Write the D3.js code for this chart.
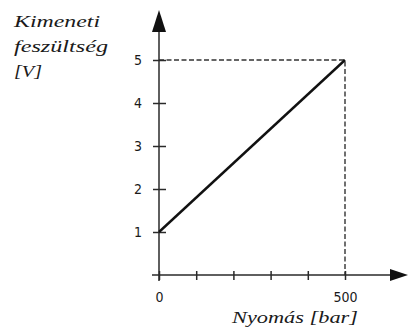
<!DOCTYPE html>
<html><head><meta charset="utf-8">
<script src="https://cdn.jsdelivr.net/npm/d3@7"></script>
<style>
body{margin:0;background:#fff}
.ttl{font-family:"Liberation Serif","DejaVu Serif",serif;font-style:italic;fill:#1a1a1a}
.tk{font-family:"DejaVu Sans Condensed","DejaVu Sans",sans-serif;fill:#1a1a1a}
</style>
</head><body>
<script>
const lineX = [0, 500];
const lineY = [1, 5];
const yTicks = [1, 2, 3, 4, 5];
const xTicks = [0, 100, 200, 300, 400, 500];
const xTickLabels = ["0", "", "", "", "", "500"];
const yTitle = ["Kimeneti", "feszültség", "[V]"];
const xTitle = "Nyomás [bar]";

const W = 409, H = 333;
const svg = d3.select("body").append("svg").attr("width", W).attr("height", H);
const x = d3.scaleLinear().domain([0, 500]).range([159, 345]);
const y = d3.scaleLinear().domain([0, 5]).range([275, 60]);
const ax = "#2a2a2a";

// dashed guides
svg.append("path")
  .attr("d", `M${x(0)},${y(5)}H${x(500)}V${y(0)}`)
  .attr("fill", "none").attr("stroke", "#333").attr("stroke-width", 1.4)
  .attr("stroke-dasharray", "5,2.5");

// axes lines
svg.append("line").attr("x1", x(0) - 7).attr("x2", 392).attr("y1", y(0)).attr("y2", y(0))
  .attr("stroke", ax).attr("stroke-width", 1.5);
svg.append("line").attr("x1", x(0)).attr("x2", x(0)).attr("y1", y(0) + 6).attr("y2", 30)
  .attr("stroke", ax).attr("stroke-width", 1.5);
// arrow heads
svg.append("path").attr("d", `M408,${y(0)}L390,${y(0) - 6}L390,${y(0) + 6}Z`).attr("fill", "#111");
svg.append("path").attr("d", `M${x(0)},10L${x(0) - 7},32L${x(0) + 7},32Z`).attr("fill", "#111");

// y ticks
const yAxis = d3.axisLeft(y).tickValues(yTicks).tickSize(0).tickPadding(0).tickFormat(d3.format("d"));
const gy = svg.append("g").call(yAxis);
gy.select(".domain").remove();
gy.selectAll(".tick text").attr("x", 138).attr("text-anchor", "middle")
  .attr("class", "tk").style("font-size", "14px").attr("dy", "0.35em");
gy.selectAll(".tick").append("line").attr("x1", x(0) - 6).attr("x2", x(0) + 7)
  .attr("stroke", ax).attr("stroke-width", 1.5);

// x ticks
const xAxis = d3.axisBottom(x).tickValues(xTicks).tickSize(0)
  .tickFormat((d, i) => xTickLabels[i]);
const gx = svg.append("g").call(xAxis);
gx.select(".domain").remove();
gx.selectAll(".tick text").attr("y", 302).attr("dy", 0)
  .attr("class", "tk").style("font-size", "14px");
gx.selectAll(".tick").append("line").attr("y1", y(0) - 4).attr("y2", y(0) + 5)
  .attr("stroke", ax).attr("stroke-width", 1.5);

// data line
svg.append("path").datum(lineX.map((d, i) => [d, lineY[i]]))
  .attr("d", d3.line().x(d => x(d[0])).y(d => y(d[1])))
  .attr("fill", "none").attr("stroke", "#111").attr("stroke-width", 2.4);

// titles
const yBase = [27, 52, 77];
const yLen = [86, 94, 28];
yTitle.forEach((t, i) => {
  svg.append("text").attr("class", "ttl").attr("x", 14).attr("y", yBase[i]).text(t)
    .style("font-size", "16px")
    .attr("textLength", yLen[i]).attr("lengthAdjust", "spacingAndGlyphs");
});
svg.append("text").attr("class", "ttl").attr("x", 232).attr("y", 323).text(xTitle)
  .style("font-size", "17px")
  .attr("textLength", 126).attr("lengthAdjust", "spacingAndGlyphs");
</script>
</body></html>
